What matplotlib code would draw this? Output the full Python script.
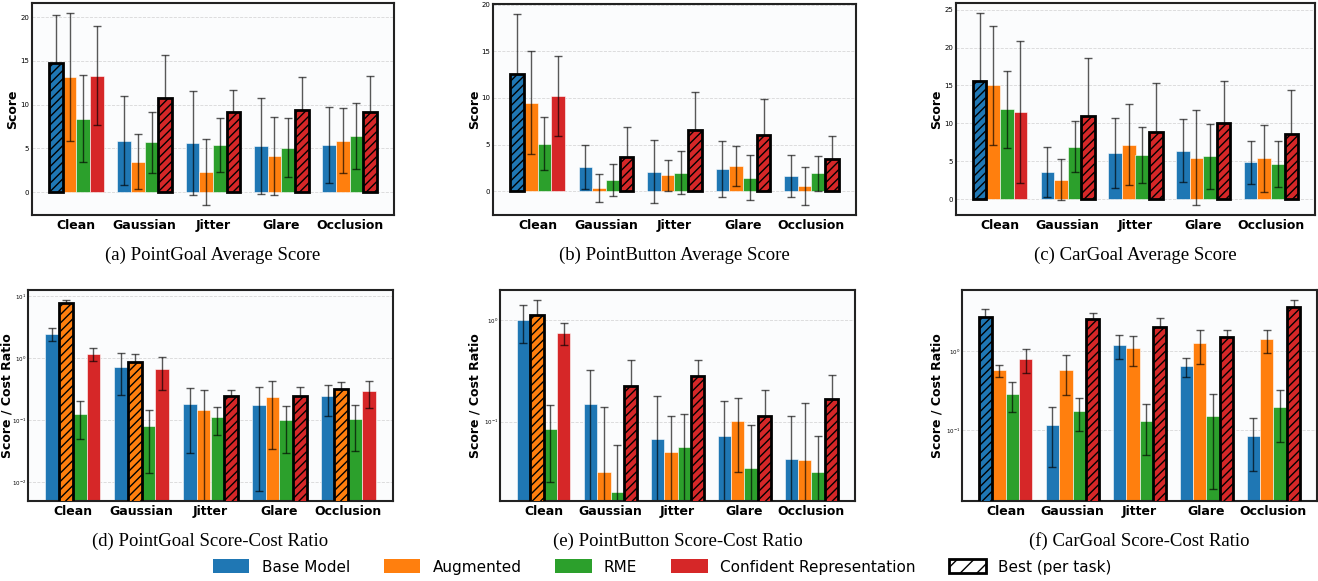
import numpy as np
import matplotlib
matplotlib.use('Agg')
import matplotlib.pyplot as plt
from matplotlib.patches import Patch

# Categories and methods
conditions = ['Clean', 'Gaussian', 'Jitter', 'Glare', 'Occlusion']
methods = ['Base Model', 'Augmented', 'RME', 'Confident Representation']
colors = ['#1f77b4', '#ff7f0e', '#2ca02c', '#d62728']

# (a) PointGoal average score: rows = methods, cols = conditions
pg_score = [[14.8, 5.9, 5.6, 5.3, 5.4],
            [13.2, 3.5, 2.3, 4.1, 5.9],
            [8.4, 5.7, 5.4, 5.1, 6.4],
            [13.3, 10.8, 9.2, 9.4, 9.2]]
pg_score_err = [[5.4, 5.1, 5.9, 5.5, 4.3],
                [7.3, 3.15, 3.8, 4.45, 3.75],
                [4.95, 3.5, 3.1, 3.35, 3.77],
                [5.65, 4.87, 2.5, 3.7, 4.07]]
pg_score_best = [0, 3, 3, 3, 3]

# (b) PointButton average score
pb_score = [[12.6, 2.55, 2.1, 2.4, 1.6],
            [9.5, 0.36, 1.7, 2.7, 0.55],
            [5.1, 1.2, 2.0, 1.45, 1.9],
            [10.2, 3.7, 6.6, 6.0, 3.45]]
pb_score_err = [[6.45, 2.37, 3.37, 2.98, 2.28],
                [5.5, 1.5, 1.68, 2.1, 2.08],
                [2.87, 1.76, 2.33, 2.44, 1.85],
                [4.3, 3.13, 4.02, 3.87, 2.47]]
pb_score_best = [0, 3, 3, 3, 3]

# (c) CarGoal average score
cg_score = [[15.6, 3.6, 6.1, 6.4, 4.85],
            [15.05, 2.6, 7.2, 5.5, 5.4],
            [11.85, 6.95, 5.85, 5.65, 4.65],
            [11.55, 10.95, 8.9, 10.05, 8.6]]
cg_score_err = [[9.0, 3.26, 4.6, 4.15, 2.8],
                [7.84, 2.75, 5.35, 6.3, 4.4],
                [5.1, 3.35, 3.7, 4.3, 3.06],
                [9.35, 7.7, 6.46, 5.6, 5.86]]
cg_score_best = [0, 3, 3, 3, 3]

# (d) PointGoal score-cost ratio
pg_ratio = [[2.5, 0.73, 0.18, 0.172, 0.243],
            [7.8, 0.87, 0.143, 0.234, 0.32],
            [0.126, 0.08, 0.111, 0.1, 0.105],
            [1.17, 0.68, 0.246, 0.243, 0.293]]
pg_ratio_err = [[0.58, 0.48, 0.151, 0.165, 0.125],
                [1.0, 0.3, 0.16, 0.2, 0.095],
                [0.076, 0.066, 0.053, 0.071, 0.073],
                [0.28, 0.37, 0.058, 0.1, 0.135]]
pg_ratio_best = [1, 1, 3, 3, 1]

# (e) PointButton score-cost ratio
pb_ratio = [[1.0, 0.148, 0.0675, 0.0717, 0.0425],
            [1.12, 0.0321, 0.0502, 0.1016, 0.0415],
            [0.0853, 0.0204, 0.0558, 0.0352, 0.0321],
            [0.756, 0.225, 0.282, 0.113, 0.169]]
pb_ratio_err = [[0.4, 0.173, 0.112, 0.088, 0.07],
                [0.47, 0.109, 0.064, 0.07, 0.11],
                [0.06, 0.039, 0.062, 0.057, 0.04],
                [0.19, 0.178, 0.12, 0.09, 0.12]]
pb_ratio_best = [1, 3, 3, 3, 3]

# (f) CarGoal score-cost ratio
cg_ratio = [[2.68, 0.1156, 1.18, 0.641, 0.0857],
            [0.571, 0.582, 1.10, 1.26, 1.40],
            [0.287, 0.175, 0.131, 0.152, 0.197],
            [0.8, 2.53, 2.03, 1.49, 3.59]]
cg_ratio_err = [[0.67, 0.081, 0.395, 0.17, 0.055],
                [0.1, 0.3, 0.46, 0.58, 0.46],
                [0.116, 0.078, 0.082, 0.134, 0.126],
                [0.27, 0.48, 0.55, 0.33, 0.8]]
cg_ratio_best = [0, 3, 3, 3, 3]

captions = ['(a) PointGoal Average Score', '(b) PointButton Average Score',
            '(c) CarGoal Average Score', '(d) PointGoal Score-Cost Ratio',
            '(e) PointButton Score-Cost Ratio', '(f) CarGoal Score-Cost Ratio']

panels = [(pg_score, pg_score_err, pg_score_best, False, None),
          (pb_score, pb_score_err, pb_score_best, False, None),
          (cg_score, cg_score_err, cg_score_best, False, None),
          (pg_ratio, pg_ratio_err, pg_ratio_best, True, (0.0049, 12.7)),
          (pb_ratio, pb_ratio_err, pb_ratio_best, True, (0.0165, 1.99)),
          (cg_ratio, cg_ratio_err, cg_ratio_best, True, (0.0128, 5.87))]

# axes rectangles in pixels (left, top, right, bottom), ylabel offset in px
W, H = 1318, 581
rects = [(32, 3, 394, 215), (493, 4, 856, 215), (956, 3, 1315, 215),
         (28, 290, 393, 501), (500, 290, 855, 501), (962, 290, 1317, 501)]
label_off = [13, 12, 13, 14, 19, 19]

fig = plt.figure(figsize=(W / 100, H / 100), dpi=100)
fig.patch.set_facecolor('white')

x = np.arange(len(conditions))
width = 0.2

for (vals, errs, best, logy, ylim), (l, t, r, b), off, cap in zip(panels, rects, label_off, captions):
    ax = fig.add_axes([l / W, 1 - b / H, (r - l) / W, (b - t) / H])
    ax.set_facecolor('#fbfcfd')
    for i in range(len(methods)):
        pos = x + (i - 1.5) * width
        v = np.array(vals[i])
        e = np.array(errs[i])
        ax.bar(pos, v, width, color=colors[i], edgecolor='white', linewidth=0.4,
               yerr=e, capsize=3, zorder=2,
               error_kw=dict(ecolor='black', elinewidth=1.0, alpha=0.65, capthick=1.0))
        # overlay the best bar of each condition
        for j in range(len(conditions)):
            if best[j] == i:
                ax.bar(pos[j], v[j], width, color=colors[i], edgecolor='black',
                       linewidth=2, hatch='////', zorder=3)
    if logy:
        ax.set_yscale('log')
        ax.set_ylim(*ylim)
        ax.yaxis.set_minor_locator(matplotlib.ticker.NullLocator())
        ax.set_ylabel('Score / Cost Ratio', fontsize=9, fontweight='bold')
        ax.tick_params(axis='y', labelsize=4, length=0, pad=1)
    else:
        ax.set_ylabel('Score', fontsize=9, fontweight='bold')
        ax.tick_params(axis='y', labelsize=5, length=0, pad=2)
    ax.yaxis.set_label_coords(-off / (r - l), 0.5)
    ax.set_xlim(-0.65, 4.65)
    ax.set_xticks(x)
    ax.set_xticklabels(conditions, fontsize=9, fontweight='bold')
    ax.tick_params(axis='x', length=0, pad=3)
    ax.grid(axis='y', linestyle='--', color='#cfcfcf', linewidth=0.6, alpha=0.8, zorder=0)
    ax.set_axisbelow(True)
    for s in ax.spines.values():
        s.set_linewidth(1.5)
        s.set_color('#222222')
    cx = (l + r) / 2 / W
    cy = 1 - (b + 40) / H
    fig.text(cx, cy, cap, ha='center', va='center', fontsize=13.5,
             family='Liberation Serif')

# shared legend
handles = [Patch(facecolor=c, label=m) for c, m in zip(colors, methods)]
plt.rcParams['hatch.linewidth'] = 1.0
handles.append(Patch(facecolor='white', edgecolor='black', linewidth=2,
                     hatch='//', label='Best (per task)'))
fig.legend(handles=handles, loc='center', bbox_to_anchor=(662 / W, 1 - 567 / H),
           ncol=5, frameon=False, fontsize=11, handlelength=2.4, handleheight=1.0,
           columnspacing=2.2, handletextpad=0.8)

fig.savefig('out.png', dpi=100)
